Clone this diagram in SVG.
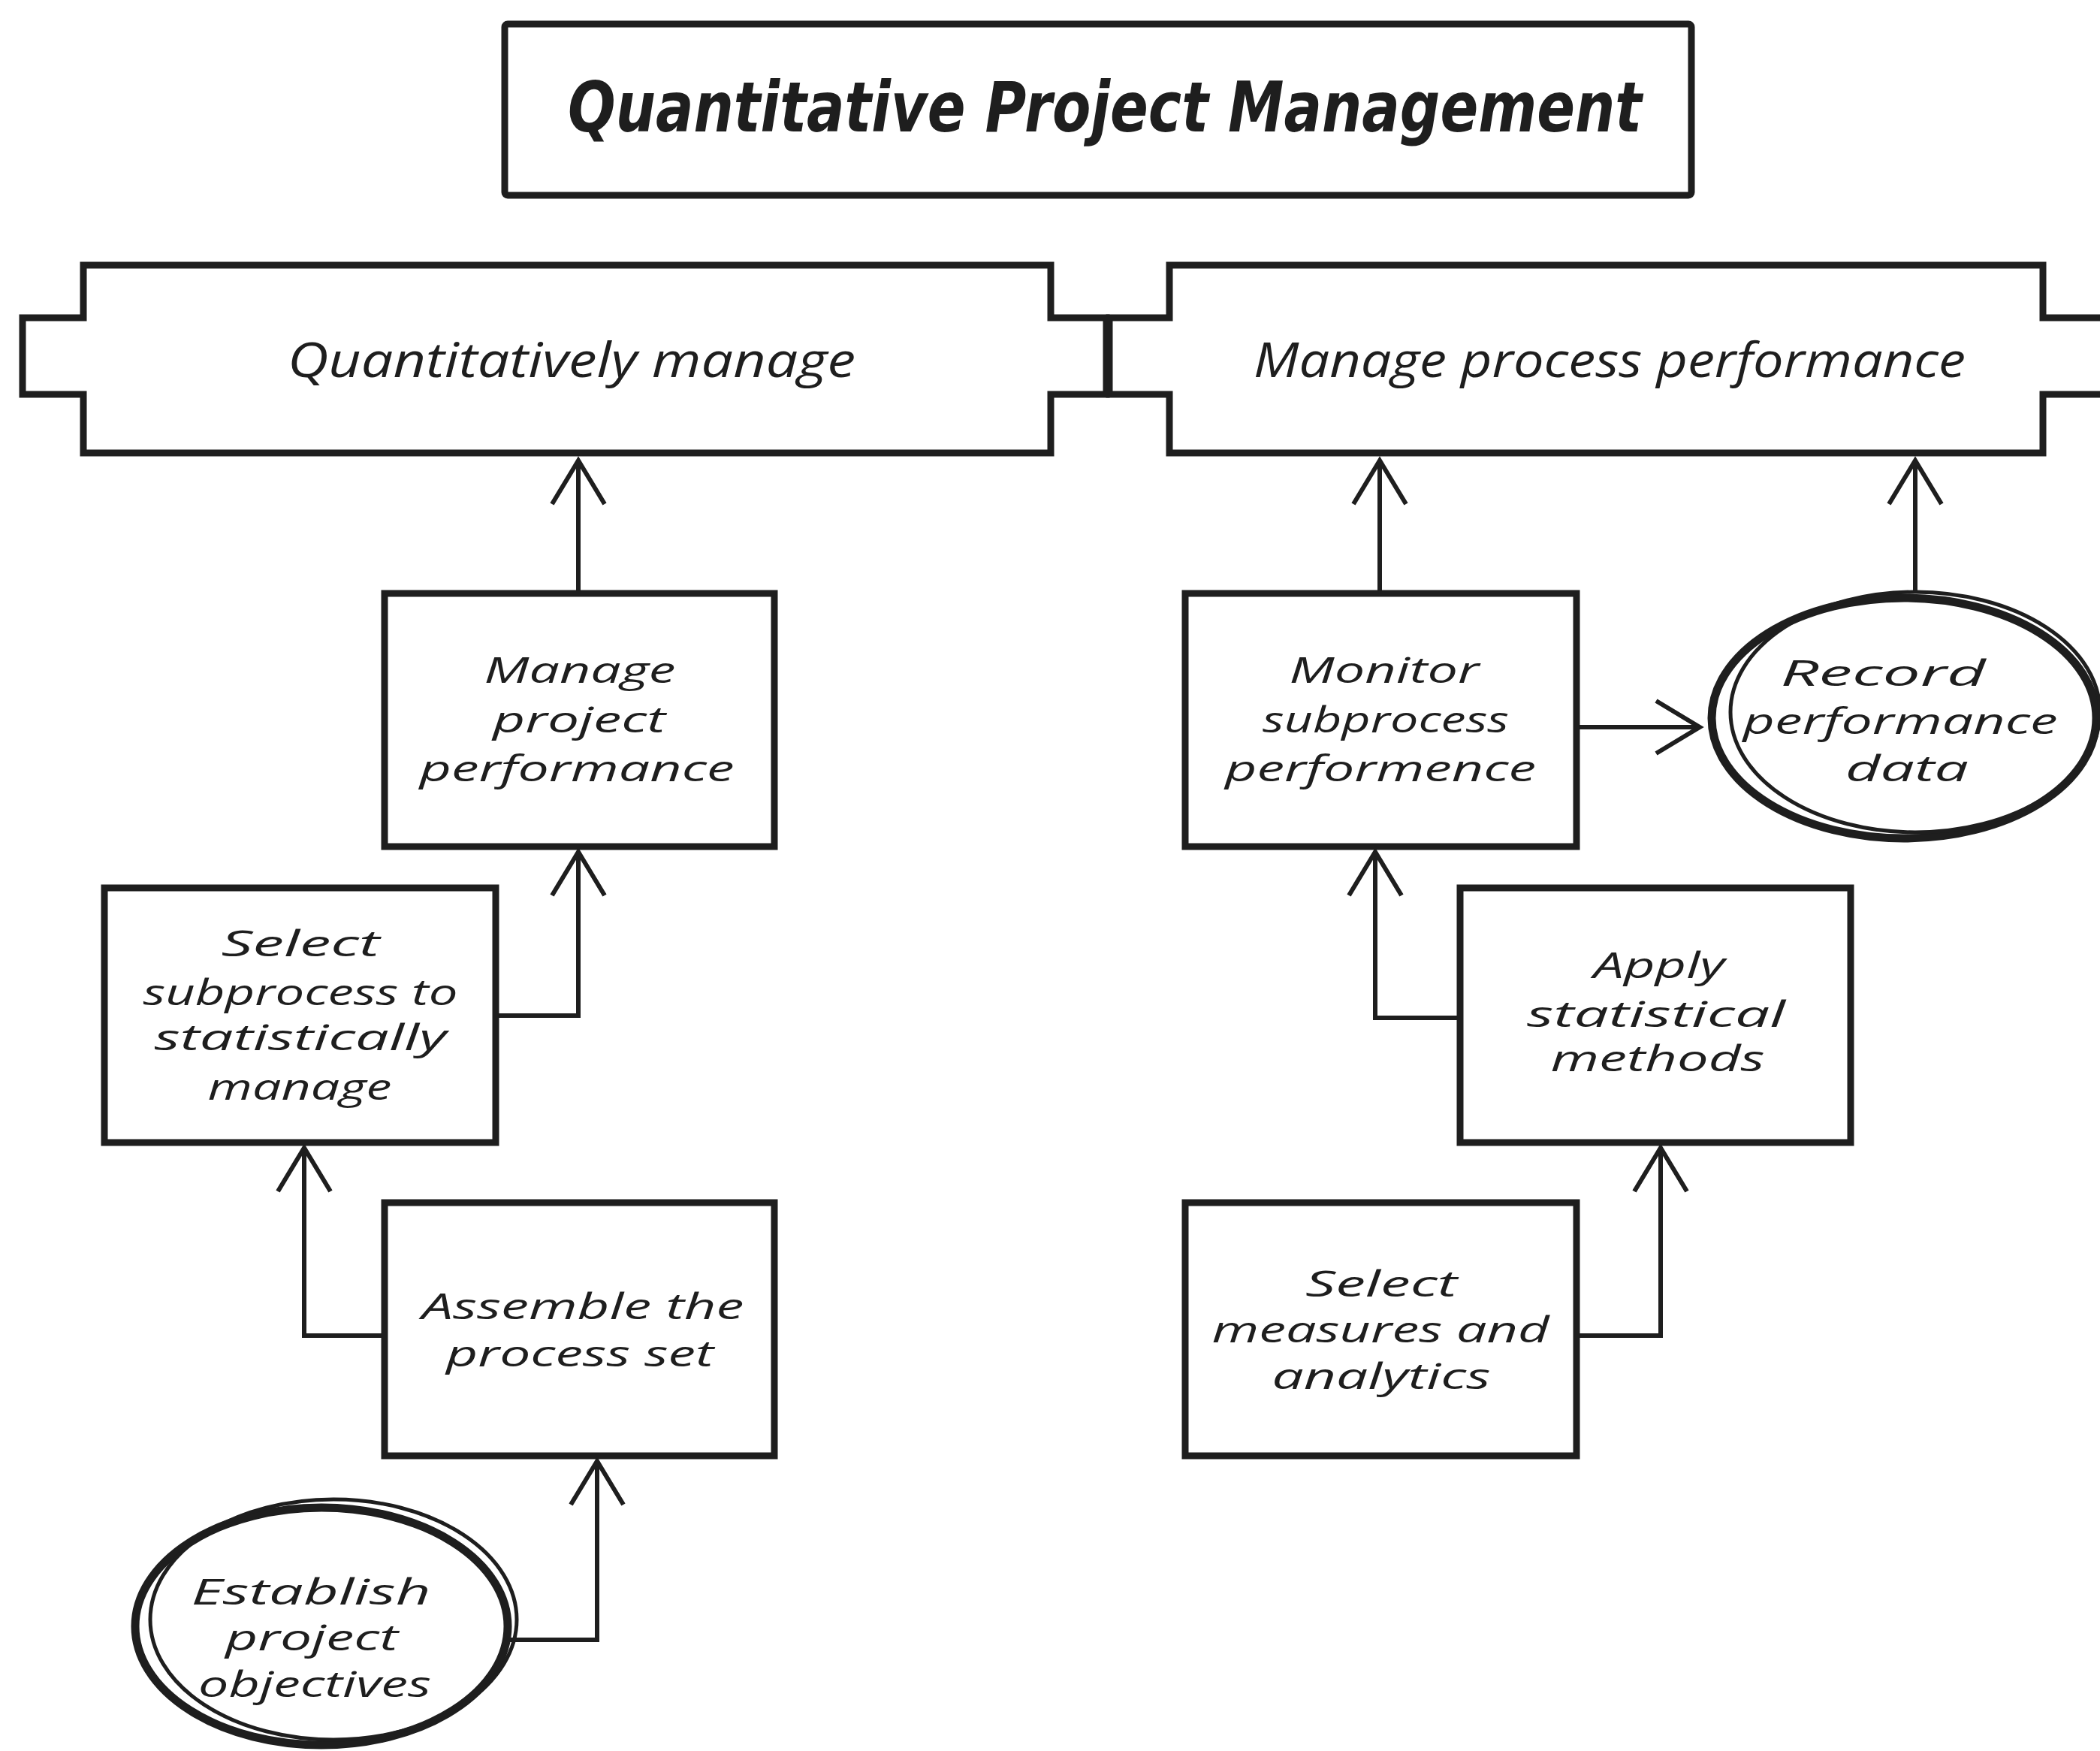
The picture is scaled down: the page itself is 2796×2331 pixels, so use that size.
<svg xmlns="http://www.w3.org/2000/svg" width="2796" height="2331" viewBox="0 0 2796 2331">
  <style>
    .shape { fill: #ffffff; stroke: #1e1e1e; stroke-width: 9; stroke-linejoin: miter; }
    .oval { fill: #ffffff; stroke: #1e1e1e; stroke-width: 11; }
    .ring { fill: none; stroke: #1e1e1e; stroke-width: 5; }
    .link { fill: none; stroke: #1e1e1e; stroke-width: 6; marker-end: url(#arrow); }
    .label { font-family: "Open Sans", "DejaVu Sans", sans-serif; font-style: italic; font-size: 48px; fill: #1e1e1e; text-anchor: middle; }
    .banner { font-size: 64px; }
    .title { font-family: "DejaVu Sans", "Open Sans", sans-serif; font-style: italic; font-weight: bold; font-size: 92px; fill: #1e1e1e; text-anchor: middle; }
  </style>
  <defs>
    <marker id="arrow" markerUnits="userSpaceOnUse" viewBox="-70 -45 80 90" markerWidth="80" markerHeight="90" refX="0" refY="0" orient="auto">
      <path d="M-58,-35 L0,0 L-58,35" fill="none" stroke="#1e1e1e" stroke-width="6" stroke-linejoin="miter"/>
    </marker>
  </defs>
  <rect width="2796" height="2331" fill="#ffffff"/>

  <!-- Title -->
  <g id="title">
    <rect class="shape" x="672" y="32" width="1580" height="228" rx="4"/>
    <text class="title" x="1471" y="175" textLength="1430" lengthAdjust="spacingAndGlyphs">Quantitative Project Management</text>
  </g>

  <!-- Connectors -->
  <g id="connectors">
    <path class="link" d="M770,790 V613"/>
    <path class="link" d="M660,1352 H770 V1134"/>
    <path class="link" d="M512,1778 H405 V1528"/>
    <path class="link" d="M676,2183 H795 V1945"/>
    <path class="link" d="M1837,790 V613"/>
    <path class="link" d="M2550,790 V613"/>
    <path class="link" d="M2099,968 H2263"/>
    <path class="link" d="M1944,1355 H1831 V1134"/>
    <path class="link" d="M2099,1778 H2211 V1528"/>
  </g>

  <!-- Phase banners -->
  <g id="quantitatively-manage">
    <path class="shape" d="M111,353 H1399 V423 H1473 V525 H1399 V603 H111 V525 H30 V423 H111 Z"/>
    <text class="label banner" x="761" y="502" textLength="756" lengthAdjust="spacingAndGlyphs">Quantitatively manage</text>
  </g>
  <g id="manage-process-performance">
    <path class="shape" d="M2810,423 H2720 V353 H1557 V423 H1477 V525 H1557 V603 H2720 V525 H2810"/>
    <text class="label banner" x="2143" y="502" textLength="948" lengthAdjust="spacingAndGlyphs">Manage process performance</text>
  </g>

  <!-- Left column -->
  <g id="manage-project-performance">
    <rect class="shape" x="512" y="790" width="519" height="337"/>
    <text class="label" x="772" y="909" textLength="255" lengthAdjust="spacingAndGlyphs">Manage</text>
    <text class="label" x="771" y="975" textLength="230" lengthAdjust="spacingAndGlyphs">project</text>
    <text class="label" x="768" y="1040" textLength="419" lengthAdjust="spacingAndGlyphs">performance</text>
  </g>
  <g id="select-subprocess">
    <rect class="shape" x="139" y="1182" width="521" height="339"/>
    <text class="label" x="400" y="1273" textLength="211" lengthAdjust="spacingAndGlyphs">Select</text>
    <text class="label" x="400" y="1338" textLength="419" lengthAdjust="spacingAndGlyphs">subprocess to</text>
    <text class="label" x="400" y="1398" textLength="389" lengthAdjust="spacingAndGlyphs">statistically</text>
    <text class="label" x="399" y="1464" textLength="245" lengthAdjust="spacingAndGlyphs">manage</text>
  </g>
  <g id="assemble-process-set">
    <rect class="shape" x="512" y="1601" width="519" height="337"/>
    <text class="label" x="776" y="1756" textLength="429" lengthAdjust="spacingAndGlyphs">Assemble the</text>
    <text class="label" x="772" y="1819" textLength="356" lengthAdjust="spacingAndGlyphs">process set</text>
  </g>
  <g id="establish-objectives">
    <ellipse class="oval" cx="428" cy="2165" rx="248" ry="158"/>
    <ellipse class="ring" cx="444" cy="2156" rx="244" ry="160"/>
    <text class="label" x="414" y="2136" textLength="319" lengthAdjust="spacingAndGlyphs">Establish</text>
    <text class="label" x="415" y="2197" textLength="230" lengthAdjust="spacingAndGlyphs">project</text>
    <text class="label" x="419" y="2259" textLength="310" lengthAdjust="spacingAndGlyphs">objectives</text>
  </g>

  <!-- Right column -->
  <g id="monitor-subprocess">
    <rect class="shape" x="1578" y="790" width="521" height="337"/>
    <text class="label" x="1843" y="909" textLength="253" lengthAdjust="spacingAndGlyphs">Monitor</text>
    <text class="label" x="1845" y="975" textLength="328" lengthAdjust="spacingAndGlyphs">subprocess</text>
    <text class="label" x="1838" y="1040" textLength="414" lengthAdjust="spacingAndGlyphs">performence</text>
  </g>
  <g id="record-performance-data">
    <ellipse class="oval" cx="2535" cy="956" rx="256" ry="160"/>
    <ellipse class="ring" cx="2550" cy="948" rx="246" ry="160"/>
    <text class="label" x="2507" y="913" textLength="273" lengthAdjust="spacingAndGlyphs">Record</text>
    <text class="label" x="2530" y="977" textLength="419" lengthAdjust="spacingAndGlyphs">performance</text>
    <text class="label" x="2539" y="1040" textLength="164" lengthAdjust="spacingAndGlyphs">data</text>
  </g>
  <g id="apply-statistical-methods">
    <rect class="shape" x="1944" y="1182" width="520" height="339"/>
    <text class="label" x="2209" y="1302" textLength="175" lengthAdjust="spacingAndGlyphs">Apply</text>
    <text class="label" x="2205" y="1367" textLength="344" lengthAdjust="spacingAndGlyphs">statistical</text>
    <text class="label" x="2207" y="1426" textLength="285" lengthAdjust="spacingAndGlyphs">methods</text>
  </g>
  <g id="select-measures">
    <rect class="shape" x="1578" y="1601" width="521" height="337"/>
    <text class="label" x="1839" y="1726" textLength="202" lengthAdjust="spacingAndGlyphs">Select</text>
    <text class="label" x="1838" y="1787" textLength="449" lengthAdjust="spacingAndGlyphs">measures and</text>
    <text class="label" x="1839" y="1849" textLength="291" lengthAdjust="spacingAndGlyphs">analytics</text>
  </g>
</svg>
